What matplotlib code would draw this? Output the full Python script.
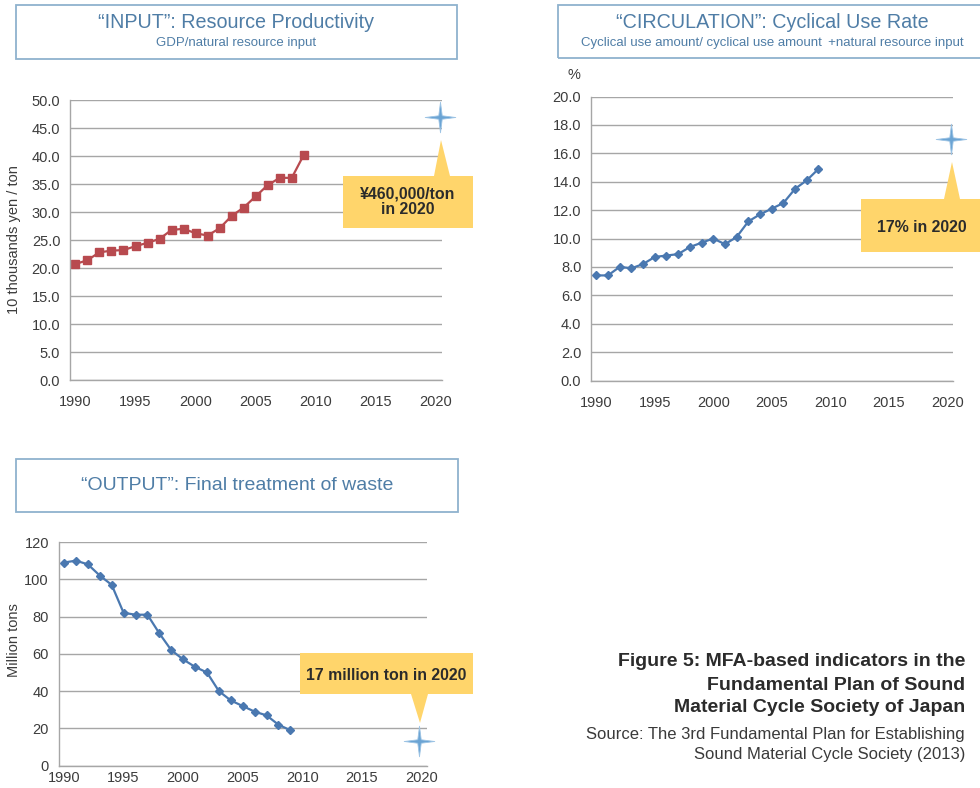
import matplotlib
matplotlib.use("Agg")
import matplotlib.pyplot as plt
from matplotlib.path import Path
from matplotlib.patches import Polygon, Rectangle

plt.rcParams["font.family"] = ["Liberation Sans", "DejaVu Sans"]

# ---- data ----
years = list(range(1990, 2010))
productivity = [20.7, 21.4, 22.8, 23.1, 23.2, 23.9, 24.5, 25.2, 26.8, 27.0,
                26.2, 25.8, 27.1, 29.3, 30.8, 32.8, 34.8, 36.1, 36.1, 40.2]
cyclical_rate = [7.4, 7.4, 8.0, 7.9, 8.2, 8.7, 8.8, 8.9, 9.4, 9.7,
                 10.0, 9.6, 10.1, 11.2, 11.7, 12.1, 12.5, 13.5, 14.1, 14.9]
final_waste = [109, 110, 108, 102, 97, 82, 81, 81, 71, 62,
               57, 53, 50, 40, 35, 32, 29, 27, 22, 19]
target_year = [2020.3, 2020.3, 2019.8]
target_value = [47, 17, 13]
x_ticks = [1990, 1995, 2000, 2005, 2010, 2015, 2020]

W, H = 980, 788
GRID = "#a6a6a6"
TICK = "#3c3c3c"
TITLE_C = "#4f7da6"
BOX_C = "#8fb2ce"
CALLOUT = "#ffd56b"
STAR_C = "#6ba4d4"

fig = plt.figure(figsize=(W / 100, H / 100), dpi=100)


def px_rect(l, t, r, b):
    return [l / W, 1 - b / H, (r - l) / W, (b - t) / H]


def fx(x):
    return x / W


def fy(y):
    return 1 - y / H


star = Path.unit_regular_star(4, innerCircle=0.16)


def style_axes(ax, ylim, yticks, fmt, xpad=11):
    ax.set_xlim(1989.55, 2020.5)
    ax.set_ylim(*ylim)
    ax.set_xticks(x_ticks)
    ax.set_yticks(yticks)
    ax.set_yticklabels([fmt.format(v) for v in yticks])
    for s in ("top", "right"):
        ax.spines[s].set_visible(False)
    for s in ("left", "bottom"):
        ax.spines[s].set_color(GRID)
        ax.spines[s].set_linewidth(1.0)
    ax.grid(axis="y", color=GRID, lw=1.0)
    ax.set_axisbelow(True)
    ax.tick_params(length=0, labelsize=10.5, colors=TICK)
    ax.tick_params(axis="y", pad=7)
    ax.tick_params(axis="x", pad=xpad)


# INPUT chart
ax1 = fig.add_axes(px_rect(70, 100, 442, 380))
style_axes(ax1, (0, 50), [0, 5, 10, 15, 20, 25, 30, 35, 40, 45, 50], "{:.1f}")
ax1.plot(years, productivity, color="#b84a4f", lw=1.6, marker="s", ms=5.5,
         clip_on=False)
ax1.plot(target_year[0], target_value[0], marker=star, ms=22, color=STAR_C,
         mec="#9cc3e4", mew=0.6, clip_on=False, zorder=5)
fig.text(fx(14), fy(240), "10 thousands yen / ton", rotation=90, ha="center",
         va="center", fontsize=10.5, color=TICK)

# CIRCULATION chart
ax2 = fig.add_axes(px_rect(591, 96.5, 953, 380.5))
style_axes(ax2, (0, 20), [0, 2, 4, 6, 8, 10, 12, 14, 16, 18, 20], "{:.1f}")
ax2.plot(years, cyclical_rate, color="#4a78b0", lw=1.6, marker="D", ms=4.5,
         clip_on=False)
ax2.plot(target_year[1], target_value[1], marker=star, ms=22, color=STAR_C,
         mec="#9cc3e4", mew=0.6, clip_on=False, zorder=5)
fig.text(fx(574), fy(75), "%", ha="center", va="center", fontsize=10.5, color=TICK)

# OUTPUT chart
ax3 = fig.add_axes(px_rect(58.7, 542, 427.3, 765.7))
style_axes(ax3, (0, 120), [0, 20, 40, 60, 80, 100, 120], "{:.0f}", xpad=4)
ax3.plot(years, final_waste, color="#4a78b0", lw=1.6, marker="D", ms=4.5,
         clip_on=False)
ax3.plot(target_year[2], target_value[2], marker=star, ms=22, color=STAR_C,
         mec="#9cc3e4", mew=0.6, clip_on=False, zorder=5)
fig.text(fx(14), fy(640), "Million tons", rotation=90, ha="center",
         va="center", fontsize=10.5, color=TICK)

# title boxes
boxes = [
    ((16, 5, 457, 59), 236, "\u201cINPUT\u201d: Resource Productivity",
     "GDP/natural resource input"),
    ((558, 5, 985, 58), 772, "\u201cCIRCULATION\u201d: Cyclical Use Rate",
     "Cyclical use amount/ cyclical use amount \u2009+natural resource input"),
    ((16, 459, 458, 512), 237, "\u201cOUTPUT\u201d: Final treatment of waste", None),
]
for (l, t, r, b), cx, title, sub in boxes:
    fig.patches.append(Rectangle((fx(l), fy(b)), fx(r - l), (b - t) / H,
                                 transform=fig.transFigure, fill=False,
                                 ec=BOX_C, lw=1.3))
    if sub:
        fig.text(fx(cx), fy(t + 18), title, ha="center", va="center",
                 fontsize=14.2, color=TITLE_C)
        fig.text(fx(cx), fy(t + 38), sub, ha="center", va="center",
                 fontsize=9.5, color=TITLE_C)
    else:
        fig.text(fx(cx), fy((t + b) / 2), title, ha="center", va="center",
                 fontsize=14, color=TITLE_C)

# callouts
callouts = [
    ([(343, 176), (434, 176), (441, 140), (450, 176), (473, 176), (473, 228), (343, 228)],
     (408, 202), "\u00a5460,000/ton\nin 2020"),
    ([(861, 199), (944, 199), (952, 162), (960, 199), (985, 199), (985, 252), (861, 252)],
     (922, 228), "17% in 2020"),
    ([(300, 653), (473, 653), (473, 694), (428, 694), (420, 723), (411, 694), (300, 694)],
     (386, 675), "17 million ton in 2020"),
]
for verts, (tx, ty), label in callouts:
    fig.patches.append(Polygon([(fx(x), fy(y)) for x, y in verts], closed=True,
                               transform=fig.transFigure, fc=CALLOUT, ec="none",
                               zorder=1))
    fig.text(fx(tx), fy(ty), label, ha="center", va="center", fontsize=11.4,
             fontweight="bold", color="#2b2b2b", linespacing=1.05, zorder=3)

# caption
caption = ["Figure 5: MFA-based indicators in the", "Fundamental Plan of Sound",
           "Material Cycle Society of Japan"]
source = ["Source: The 3rd Fundamental Plan for Establishing",
          "Sound Material Cycle Society (2013)"]
for i, line in enumerate(caption):
    fig.text(fx(965), fy(662 + 23 * i), line, ha="right", va="center",
             fontsize=14, fontweight="bold", color="#2b2b2b")
for i, line in enumerate(source):
    fig.text(fx(965), fy(735 + 19 * i), line, ha="right", va="center",
             fontsize=12, color="#3a3a3a")

fig.savefig("out.png", dpi=100)
